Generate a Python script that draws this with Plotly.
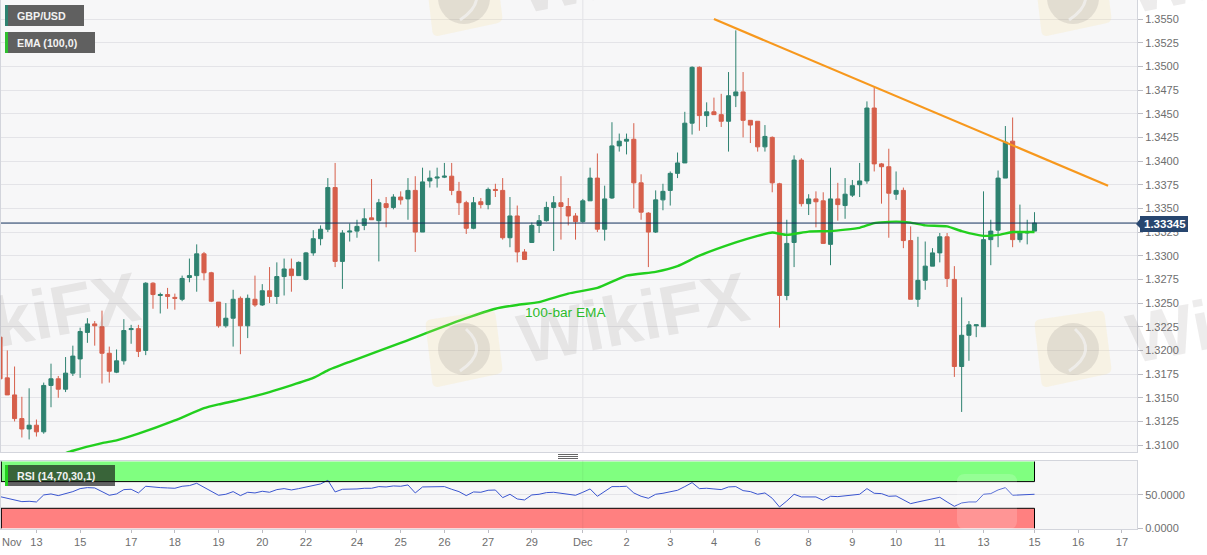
import plotly.graph_objects as go

W, H = 1207, 555

# ---------- data ----------
bars = list(range(1, 144))
opens = [1.3214,1.3171,1.3153,1.3128,1.3117,1.3121,1.3114,1.3163,1.3170,1.3159,1.3176,1.3191,1.3219,1.3228,1.3225,1.3197,1.3177,1.3189,1.3222,1.3223,
1.3200,1.3271,1.3258,1.3259,1.3256,1.3254,1.3277,1.3279,1.3302,1.3282,1.3251,1.3226,1.3234,1.3255,1.3226,1.3254,1.3248,1.3263,1.3257,1.3278,
1.3286,1.3279,1.3275,1.3303,1.3318,1.3328,1.3372,1.3294,1.3325,1.3326,1.3332,1.3340,1.3337,1.3355,1.3351,1.3362,1.3360,1.3369,1.3325,1.3379,
1.3382,1.3383,1.3384,1.3368,1.3356,1.3329,1.3357,1.3354,1.3370,1.3369,1.3319,1.3342,1.3304,1.3314,1.3332,1.3337,1.3351,1.3356,1.3352,1.3342,
1.3336,1.3358,1.3382,1.3328,1.3361,1.3416,1.3421,1.3423,1.3377,1.3345,1.3325,1.3359,1.3369,1.3387,1.3398,1.3440,1.3499,1.3448,1.3452,1.3449,
1.3442,1.3469,1.3473,1.3443,1.3442,1.3415,1.3425,1.3376,1.3258,1.3314,1.3401,1.3355,1.3360,1.3358,1.3312,1.3360,1.3353,1.3364,1.3375,1.3379,
1.3456,1.3397,1.3394,1.3365,1.3369,1.3316,1.3254,1.3274,1.3289,1.3303,1.3320,1.3275,1.3183,1.3216,1.3226,1.3225,1.3317,1.3327,1.3382,1.3421,
1.3317,1.3324,1.3326]
highs = [1.3222,1.3200,1.3183,1.3151,1.3160,1.3127,1.3166,1.3186,1.3173,1.3193,1.3205,1.3224,1.3234,1.3231,1.3242,1.3204,1.3201,1.3233,1.3227,1.3227,
1.3272,1.3272,1.3261,1.3266,1.3260,1.3279,1.3297,1.3312,1.3304,1.3283,1.3251,1.3250,1.3264,1.3257,1.3259,1.3279,1.3270,1.3288,1.3293,1.3297,
1.3297,1.3294,1.3304,1.3327,1.3332,1.3382,1.3398,1.3327,1.3334,1.3338,1.3350,1.3381,1.3360,1.3362,1.3365,1.3368,1.3382,1.3384,1.3393,1.3390,
1.3393,1.3398,1.3398,1.3378,1.3358,1.3362,1.3361,1.3372,1.3376,1.3382,1.3362,1.3353,1.3307,1.3335,1.3343,1.3357,1.3363,1.3384,1.3361,1.3345,
1.3360,1.3393,1.3408,1.3374,1.3441,1.3429,1.3429,1.3440,1.3386,1.3346,1.3369,1.3376,1.3389,1.3409,1.3452,1.3500,1.3500,1.3462,1.3467,1.3471,
1.3494,1.3538,1.3494,1.3443,1.3442,1.3438,1.3426,1.3377,1.3338,1.3406,1.3403,1.3365,1.3368,1.3367,1.3393,1.3377,1.3382,1.3380,1.3398,1.3463,
1.3478,1.3398,1.3413,1.3389,1.3372,1.3331,1.3320,1.3315,1.3308,1.3324,1.3324,1.3289,1.3256,1.3231,1.3227,1.3368,1.3338,1.3390,1.3437,1.3446,
1.3354,1.3338,1.3346]
lows = [1.3170,1.3153,1.3125,1.3108,1.3106,1.3109,1.3112,1.3140,1.3150,1.3156,1.3173,1.3171,1.3208,1.3205,1.3165,1.3166,1.3176,1.3185,1.3207,1.3193,
1.3195,1.3244,1.3239,1.3244,1.3243,1.3252,1.3272,1.3262,1.3274,1.3251,1.3224,1.3224,1.3204,1.3196,1.3213,1.3246,1.3247,1.3250,1.3249,1.3258,
1.3262,1.3279,1.3274,1.3300,1.3311,1.3325,1.3288,1.3265,1.3315,1.3319,1.3327,1.3338,1.3294,1.3330,1.3349,1.3354,1.3338,1.3304,1.3325,1.3372,
1.3372,1.3382,1.3364,1.3343,1.3323,1.3328,1.3350,1.3349,1.3362,1.3317,1.3309,1.3293,1.3296,1.3314,1.3324,1.3336,1.3305,1.3317,1.3332,1.3317,
1.3335,1.3358,1.3325,1.3316,1.3360,1.3410,1.3407,1.3350,1.3338,1.3288,1.3324,1.3348,1.3353,1.3382,1.3398,1.3428,1.3432,1.3436,1.3449,1.3436,
1.3410,1.3457,1.3425,1.3419,1.3410,1.3410,1.3367,1.3224,1.3253,1.3288,1.3352,1.3343,1.3330,1.3313,1.3290,1.3337,1.3339,1.3362,1.3362,1.3376,
1.3389,1.3355,1.3319,1.3359,1.3308,1.3254,1.3246,1.3264,1.3289,1.3293,1.3267,1.3172,1.3135,1.3189,1.3214,1.3225,1.3290,1.3309,1.3382,1.3309,
1.3314,1.3312,1.3326]
closes = [1.3170,1.3153,1.3128,1.3117,1.3121,1.3114,1.3163,1.3170,1.3159,1.3176,1.3194,1.3220,1.3228,1.3226,1.3197,1.3178,1.3189,1.3221,1.3223,1.3199,
1.3271,1.3259,1.3259,1.3257,1.3255,1.3276,1.3279,1.3302,1.3282,1.3252,1.3226,1.3234,1.3254,1.3226,1.3255,1.3248,1.3263,1.3257,1.3278,1.3286,
1.3279,1.3293,1.3303,1.3318,1.3328,1.3372,1.3294,1.3324,1.3326,1.3331,1.3339,1.3338,1.3356,1.3351,1.3362,1.3359,1.3369,1.3325,1.3378,1.3382,
1.3383,1.3384,1.3369,1.3356,1.3329,1.3356,1.3354,1.3370,1.3369,1.3319,1.3342,1.3304,1.3296,1.3332,1.3337,1.3351,1.3356,1.3352,1.3342,1.3336,
1.3358,1.3382,1.3328,1.3360,1.3416,1.3421,1.3423,1.3377,1.3346,1.3325,1.3359,1.3368,1.3387,1.3398,1.3440,1.3499,1.3448,1.3452,1.3449,1.3442,
1.3469,1.3473,1.3443,1.3438,1.3415,1.3426,1.3377,1.3258,1.3313,1.3401,1.3355,1.3360,1.3357,1.3313,1.3360,1.3354,1.3365,1.3374,1.3379,1.3456,
1.3397,1.3394,1.3366,1.3369,1.3316,1.3254,1.3274,1.3289,1.3303,1.3320,1.3276,1.3183,1.3216,1.3227,1.3227,1.3317,1.3326,1.3382,1.3420,1.3317,
1.3324,1.3325,1.33345]

ema_bars = [8,11,15,17,20,25,29,31,34,38,44,46,49,56,65,69,72,75,79,83,87,91,94,97,102,105,107,109,112,115,119,121,124,126,128,131,133,136,138,140,142,143]
ema_values = [1.3086,1.3094,1.3102,1.3105,1.3112,1.3126,1.3139,1.3143,1.3148,1.3156,1.3171,1.3179,1.3188,1.3208,1.3234,1.3244,1.3248,1.3251,1.3260,1.3266,
1.3279,1.3283,1.3289,1.3300,1.3314,1.3321,1.33245,1.3322,1.33255,1.3326,1.33295,1.33345,1.3336,1.3335,1.3332,1.3331,1.3326,1.3321,1.3322,1.3325,1.3325,1.3325]

trend_bars = [99, 153.1]
trend_values = [1.3550, 1.3374]

rsi_values = [47.5,45,41.5,40,40.5,39.5,50,51.5,49,52,55,59.5,61,60.5,55,49.5,51.5,58,58.5,53,
63,61.5,61,60.5,60,63,64,67.5,61.5,55.5,49.5,51,55,49,54,53,55.5,54,58,59.5,
57.5,59.5,61.5,64.5,66.5,72,54.5,58.5,58.5,59,60,60,62.5,62,63.5,63,65,53,62,62.5,
62.5,62.5,58.5,55,49,54.5,54,57,57.4,46,51,44,42.5,50,51,53.5,54,52.5,51,49.5,
54,59,48,55,62.5,62.5,63,53,48,45,51,52.5,55,57,62.5,68.5,59.5,60,59,58,
62,62.5,56.5,55,51,53,45,32,41,51,47,47,47,42,48,47.5,49,50.5,51,59.5,
52.5,52,48,48.5,42.5,37,39.5,41.5,44,46.5,39.5,33,38,39.5,39.5,51,52,57.5,61,49.5,
50,51,51]

tick_bars = [6,12,19,25,31,37,43,50,56,62,68,74,81,87,93,99,105,112,118,124,130,136,143,149,155]
tick_labels = ["13","15","17","18","19","20","22","24","25","26","27","29","Dec","2","3","4","6","8","9","10","11","13","15","16","17"]
price_ticks = [1.3100,1.3125,1.3150,1.3175,1.3200,1.3225,1.3250,1.3275,1.3300,1.3325,1.3350,1.3375,1.3400,1.3425,1.3450,1.3475,1.3500,1.3525,1.3550]
rsi_ticks = [0, 50]
last_price = 1.33345
overbought, oversold = 70, 30
dec_bar = 81

# ---------- style ----------
FONT = "Liberation Sans"
GREEN = "#2e8270"
RED = "#d65f4b"
PLOT_BG = "#f7f7f8"
GRID = "#e4e4e8"
BORDER = "#d3d5dc"
TICK = "#6e6e6e"
NAVY = "#12305c"

def px(x):
    return x / W
def py(y):
    return 1 - y / H

X_RANGE = [1.137, 157.07]
fig = go.Figure()

fig.add_trace(go.Candlestick(
    x=bars, open=opens, high=highs, low=lows, close=closes,
    increasing=dict(line=dict(color=GREEN, width=1), fillcolor=GREEN),
    decreasing=dict(line=dict(color=RED, width=1), fillcolor=RED),
    whiskerwidth=0, xaxis="x", yaxis="y", showlegend=False, hoverinfo="skip"))
fig.add_trace(go.Scatter(x=ema_bars, y=ema_values, mode="lines", xaxis="x", yaxis="y",
                         line=dict(color="#22cf1e", width=2.4, shape="spline", smoothing=0.5),
                         showlegend=False, hoverinfo="skip"))
fig.add_trace(go.Scatter(x=trend_bars, y=trend_values, mode="lines", xaxis="x", yaxis="y",
                         line=dict(color="#f7981d", width=2.2), showlegend=False, hoverinfo="skip"))
fig.add_trace(go.Scatter(x=bars, y=rsi_values, mode="lines", xaxis="x2", yaxis="y2",
                         line=dict(color="#3a55cf", width=1), showlegend=False, hoverinfo="skip"))

shapes = []
# Dec separator, current price line
shapes.append(dict(type="line", xref="x", yref="paper", x0=dec_bar, x1=dec_bar, y0=py(452), y1=py(0),
                   line=dict(color="#e2e2e6", width=1), layer="below"))
shapes.append(dict(type="line", xref="paper", yref="y", x0=px(1), x1=px(1137), y0=last_price, y1=last_price,
                   line=dict(color=NAVY, width=1)))
# RSI zones
end = bars[-1]
shapes.append(dict(type="rect", xref="x2", yref="y2", x0=X_RANGE[0], x1=end, y0=overbought, y1=100,
                   fillcolor="#80ff80", line=dict(width=0), layer="below"))
shapes.append(dict(type="rect", xref="x2", yref="y2", x0=X_RANGE[0], x1=end, y0=0, y1=oversold,
                   fillcolor="#ff8080", line=dict(width=0), layer="below"))
for lvl in (overbought, oversold):
    shapes.append(dict(type="line", xref="x2", yref="y2", x0=X_RANGE[0], x1=end, y0=lvl, y1=lvl,
                       line=dict(color="#000000", width=1)))
for x0 in (X_RANGE[0] + 0.05, end):
    for a, b in ((overbought, 100), (0, oversold)):
        shapes.append(dict(type="line", xref="x2", yref="y2", x0=x0, x1=x0, y0=a, y1=b,
                           line=dict(color="#000000", width=1)))
shapes.append(dict(type="line", xref="x2", yref="paper", x0=dec_bar, x1=dec_bar, y0=py(529), y1=py(460.5),
                   line=dict(color="rgba(0,0,0,0.06)", width=1)))

# splitter grip
for gy in (454.5, 456.5, 458.5):
    shapes.append(dict(type="line", xref="paper", yref="paper", x0=px(558), x1=px(578), y0=py(gy), y1=py(gy),
                       line=dict(color="#666666", width=1)))

# watermark tiles
def poly(pts, r=6):
    n = len(pts)
    d = ""
    for i in range(n):
        p, c, q = pts[i - 1], pts[i], pts[(i + 1) % n]
        def toward(a, b):
            L = ((a[0] - b[0]) ** 2 + (a[1] - b[1]) ** 2) ** 0.5
            return (a[0] + (b[0] - a[0]) * r / L, a[1] + (b[1] - a[1]) * r / L)
        s, e = toward(c, p), toward(c, q)
        d += ("M" if i == 0 else "L") + f"{px(s[0]):.5f},{py(s[1]):.5f} Q{px(c[0]):.5f},{py(c[1]):.5f} {px(e[0]):.5f},{py(e[1]):.5f} "
    return d + "Z"

annotations = []
for cx, cy in ((464, 349), (1073, 349), (464, -2), (1073, -2)):
    shapes.append(dict(type="path", xref="paper", yref="paper",
                       path=poly([(cx - 39, cy - 29), (cx + 31, cy - 39), (cx + 39, cy + 24), (cx - 31, cy + 39)]),
                       fillcolor="rgba(250,222,140,0.18)", line=dict(width=0)))
    shapes.append(dict(type="circle", xref="paper", yref="paper", x0=px(cx - 26), x1=px(cx + 26), y0=py(cy + 26), y1=py(cy - 26),
                       fillcolor="rgba(120,115,110,0.16)", line=dict(width=0)))
    shapes.append(dict(type="path", xref="paper", yref="paper",
                       path=f"M{px(cx + 2):.5f},{py(cy - 20):.5f} Q{px(cx + 26):.5f},{py(cy + 2):.5f} {px(cx - 4):.5f},{py(cy + 22):.5f}",
                       line=dict(color="rgba(247,247,248,0.6)", width=3)))

for cx, cy in ((24, 318), (633, 318), (1242, 318), (633, -32), (1242, -32)):
    annotations.append(dict(xref="paper", yref="paper", x=px(cx), y=py(cy), text="<b>WikiFX</b>", showarrow=False,
                            textangle=-11, xanchor="center", yanchor="middle",
                            font=dict(family=FONT, size=70, color="rgba(110,100,95,0.12)")))

# translucent mark on the RSI pane
shapes.append(dict(type="path", xref="paper", yref="paper",
                   path=poly([(957, 474), (1017, 474), (1017, 529), (957, 529)], r=8),
                   fillcolor="rgba(255,255,255,0.17)", line=dict(width=0)))

# label boxes
def label_box(x0, y0, x1, y1, edge, fill, text, tx, ty):
    shapes.append(dict(type="rect", xref="paper", yref="paper", x0=px(x0), x1=px(x1), y0=py(y1), y1=py(y0),
                       fillcolor=fill, line=dict(width=0)))
    shapes.append(dict(type="rect", xref="paper", yref="paper", x0=px(x0), x1=px(x0 + 3), y0=py(y1), y1=py(y0),
                       fillcolor=edge, line=dict(width=0)))
    annotations.append(dict(xref="paper", yref="paper", x=px(tx), y=py(ty), text=f"<b>{text}</b>", showarrow=False,
                            xanchor="left", yanchor="middle", font=dict(family=FONT, size=10.7, color="#f2f2f2")))

label_box(5, 5, 84, 26, GREEN, "#606060", "GBP/USD", 14.5, 16)
label_box(5, 32, 95, 53, "#2fc02f", "#606060", "EMA (100,0)", 14.5, 42.5)
label_box(5, 465, 115, 486, "#22cf1e", "rgba(20,20,20,0.66)", "RSI (14,70,30,1)", 14.5, 476)

# price flag
flag = [(1136, 224), (1140, 219), (1140, 216), (1188, 216), (1188, 232), (1140, 232), (1140, 228)]
shapes.append(dict(type="path", xref="paper", yref="paper",
                   path="M" + " L".join(f"{px(a):.5f},{py(b):.5f}" for a, b in flag) + " Z",
                   fillcolor="#27466f", line=dict(width=0)))
annotations.append(dict(xref="paper", yref="paper", x=px(1164.5), y=py(224), text=f"<b>{last_price:.5f}</b>",
                        showarrow=False, xanchor="center", yanchor="middle",
                        font=dict(family=FONT, size=11.5, color="#ffffff")))

annotations.append(dict(xref="paper", yref="paper", x=px(566), y=py(312), text="100-bar EMA", showarrow=False,
                        font=dict(family=FONT, size=13.7, color="#2dbb2d"), xanchor="center", yanchor="middle"))
annotations.append(dict(xref="paper", yref="paper", x=px(-0.5), y=py(541.5), text="Nov", showarrow=False,
                        font=dict(family=FONT, size=11, color=TICK), xanchor="left", yanchor="middle"))

axis_common = dict(showline=True, linecolor=BORDER, linewidth=1, mirror=True, zeroline=False)
fig.update_layout(
    width=W, height=H, autosize=False, margin=dict(l=0, r=0, t=0, b=0, autoexpand=False),
    paper_bgcolor="#ffffff", plot_bgcolor=PLOT_BG, showlegend=False,
    font=dict(family=FONT, size=11, color=TICK),
    boxgap=0.25, boxgroupgap=0.25,
    shapes=shapes, annotations=annotations,
    xaxis=dict(domain=[px(1), px(1137)], range=X_RANGE, anchor="y", showgrid=False, showticklabels=False,
               ticks="", rangeslider=dict(visible=False), **axis_common),
    yaxis=dict(domain=[py(452), py(0)], range=[1.30927, 1.35701], anchor="x", side="right",
               tickmode="array", tickvals=price_ticks, ticktext=[f"{v:.4f}" for v in price_ticks],
               ticks="outside", ticklen=5, tickcolor="#bdbdc4", showgrid=True, gridcolor=GRID, gridwidth=1, **axis_common),
    xaxis2=dict(domain=[px(1), px(1137)], range=X_RANGE, anchor="y2", showgrid=False,
                tickmode="array", tickvals=tick_bars, ticktext=tick_labels,
                ticks="outside", ticklen=3, tickcolor="#bdbdc4", **axis_common),
    yaxis2=dict(domain=[py(529), py(460.5)], range=[-1, 101.6], anchor="x2", side="right",
                tickmode="array", tickvals=rsi_ticks, ticktext=[f"{v:.4f}" for v in rsi_ticks],
                ticks="outside", ticklen=5, tickcolor="#bdbdc4", showgrid=True, gridcolor=GRID, **axis_common),
)

fig.write_html("out.html", config=dict(displayModeBar=False),
               post_script="document.body.style.margin='0';")
